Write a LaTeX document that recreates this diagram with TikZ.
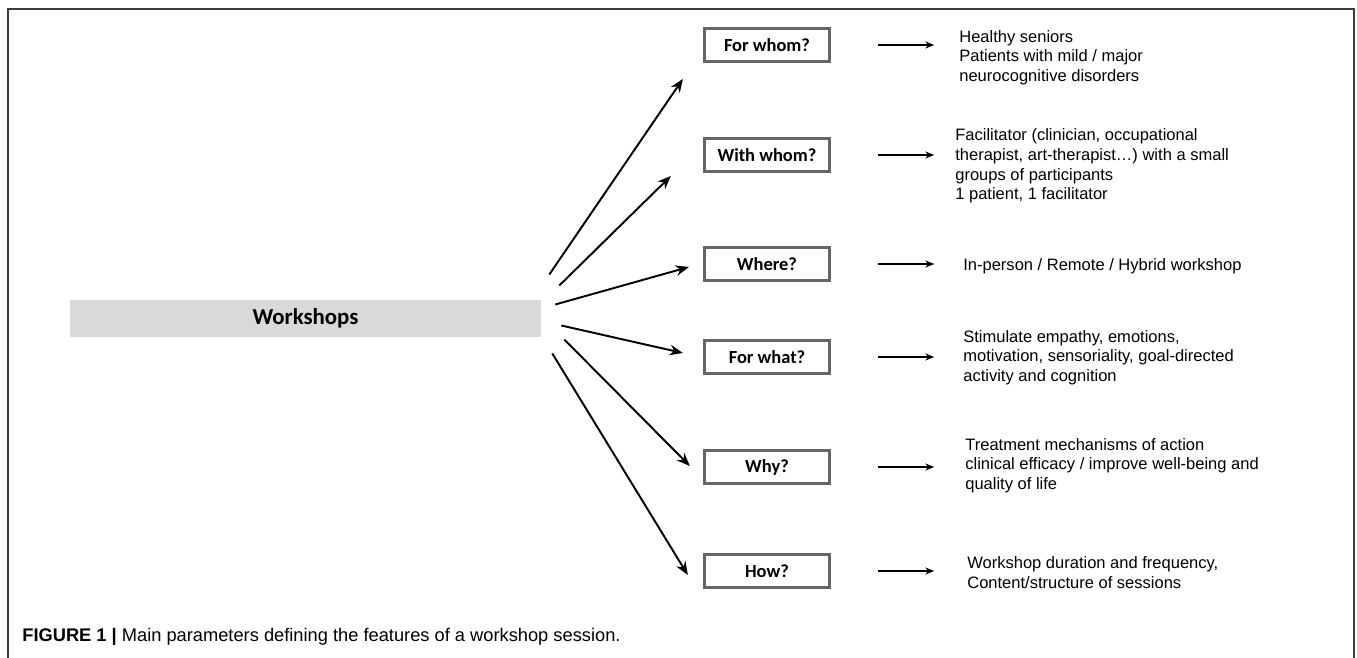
\documentclass[tikz,border=0pt]{standalone}
\usepackage{fontspec}
\setmainfont{Liberation Sans}
\newfontfamily\carlito{Carlito}
\usetikzlibrary{arrows.meta,positioning,calc}
\definecolor{wsgray}{HTML}{D9D9D9}
\definecolor{qframe}{HTML}{666666}
\definecolor{rimgray}{HTML}{3C3C3C}

\begin{document}
\begin{tikzpicture}[x=0.02cm, y=-0.02cm,
      hub/.style={fill=wsgray, minimum width=9.42cm, minimum height=0.74cm, inner sep=0pt,
                  font=\carlito\bfseries\fontsize{13}{15}\selectfont},
      qbox/.style={draw=qframe, line width=1.9pt, fill=white, minimum width=2.5cm,
                   minimum height=0.66cm, inner sep=0pt,
                   font=\carlito\bfseries\fontsize{10.5}{12}\selectfont},
      desc/.style={anchor=base west, align=left, inner sep=0pt,
                   font=\fontsize{9.4}{11.2}\selectfont},
      fan/.style={line width=1.1pt, -{Stealth[length=7.5pt,width=6pt]}},
      side/.style={line width=1.1pt, -{Stealth[length=5pt,width=4pt]}}]
    \useasboundingbox (0,0) rectangle (1357,658);
    % open frame round the figure
    \draw[rimgray, line width=0.9pt] (8,658) -- (8,9) -- (1354,9) -- (1354,658);

    \node[hub] (ws) at (305.5,318.5) {Workshops};

    \node[qbox] (q1) at (767,45)  {For whom?};
    \node[qbox] (q2) at (767,155) {With whom?};
    \node[qbox] (q3) at (767,264) {Where?};
    \node[qbox] (q4) at (767,357) {For what?};
    \node[qbox] (q5) at (767,467) {Why?};
    \node[qbox] (q6) at (767,571) {How?};

    % base = baseline of the last line
    \node[desc] (d1) at (959,81.5)  {Healthy seniors\\Patients with mild / major\\neurocognitive disorders};
    \node[desc] (d2) at (955,200)   {Facilitator (clinician, occupational\\therapist, art-therapist\dots) with a small\\groups of participants\\1 patient, 1 facilitator};
    \node[desc] (d3) at (963,271)   {In-person / Remote / Hybrid workshop};
    \node[desc] (d4) at (963,381.5) {Stimulate empathy, emotions,\\motivation, sensoriality, goal-directed\\activity and cognition};
    \node[desc] (d5) at (965,489.5) {Treatment mechanisms of action\\clinical efficacy / improve well-being and\\quality of life};
    \node[desc] (d6) at (967,588.5) {Workshop duration and frequency,\\Content/structure of sessions};

    % fan out of the hub
    \draw[fan] ($(ws.east)+(8,-44)$)  -- ($(q1.west)+(-20,34)$);
    \draw[fan] ($(ws.east)+(18,-33)$) -- ($(q2.west)+(-32,21)$);
    \draw[fan] ($(ws.east)+(14,-14)$) -- ($(q3.west)+(-14,3)$);
    \draw[fan] ($(ws.east)+(20,7)$)   -- ($(q4.west)+(-20,-4)$);
    \draw[fan] ($(ws.east)+(23,21)$)  -- ($(q5.west)+(-13,-1)$);
    \draw[fan] ($(ws.east)+(11,35)$)  -- ($(q6.west)+(-15,4)$);

    % from each question to its answers
    \draw[side] ($(q1.east)+(47,0)$) -- ($(q1.east)+(103,0)$);
    \draw[side] ($(q2.east)+(47,0)$) -- ($(q2.east)+(103,0)$);
    \draw[side] ($(q3.east)+(47,0)$) -- ($(q3.east)+(103,0)$);
    \draw[side] ($(q4.east)+(47,0)$) -- ($(q4.east)+(103,0)$);
    \draw[side] ($(q5.east)+(47,0)$) -- ($(q5.east)+(103,0)$);
    \draw[side] ($(q6.east)+(47,0)$) -- ($(q6.east)+(103,0)$);

    \node[anchor=base west, inner sep=0pt, font=\fontsize{10.4}{12}\selectfont] (cap) at (22,642)
      {\textbf{FIGURE 1 |} Main parameters defining the features of a workshop session.};
  \end{tikzpicture}
\end{document}
